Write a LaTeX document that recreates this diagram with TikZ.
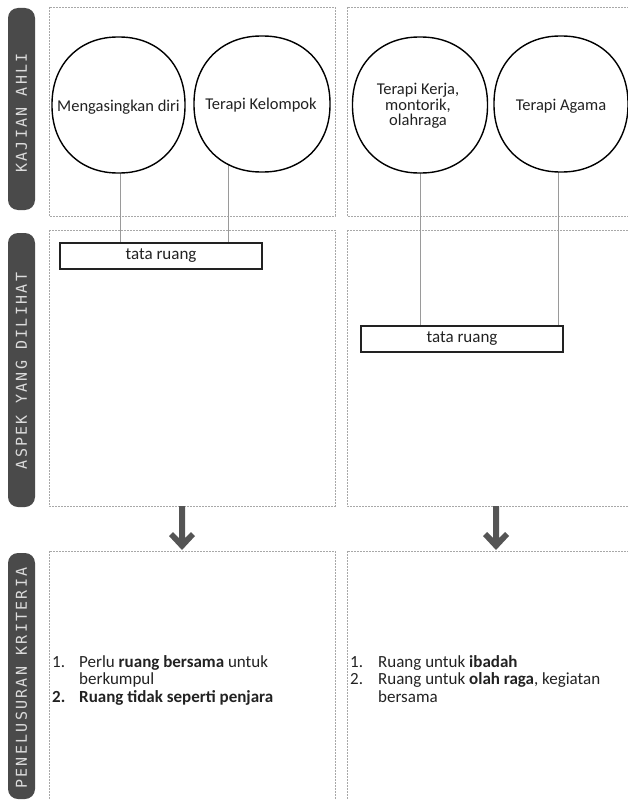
\documentclass[tikz,border=0pt]{standalone}
\usepackage{fontspec}
\setmainfont{Carlito}
\newfontfamily\sidefont[LetterSpace=15]{DejaVu Sans Mono}
\usetikzlibrary{shapes.geometric}
\definecolor{pillgray}{HTML}{4A4A4A}
\definecolor{pilltext}{HTML}{DCDCDC}
\definecolor{dotgray}{HTML}{A8A8A8}
\definecolor{linegray}{HTML}{9A9A9A}
\definecolor{arrowgray}{HTML}{555555}
\definecolor{inkc}{HTML}{222222}
\newcommand\blobshape[3]{%
  \begin{scope}[shift={(#1)}]
    \draw[blobline] plot[domain=2:358, samples=90, smooth cycle]
      ({#2*sign(cos(\x))*abs(cos(\x))^0.93}, {#3*sign(sin(\x))*abs(sin(\x))^0.93});
  \end{scope}}
\begin{document}
\begin{tikzpicture}[x=1pt,y=-1pt,
  pill/.style={fill=pillgray, rounded corners=10pt},
  sidelabel/.style={rotate=90, text=pilltext, inner sep=0pt, font=\sidefont\fontsize{15}{15}\selectfont},
  framebox/.style={draw=dotgray, line width=0.8pt, dash pattern=on 2pt off 1pt},
  bubble/.style={ellipse, minimum width=133pt, minimum height=136pt, inner sep=0pt},
  blobline/.style={draw=black, fill=white, line width=1.4pt},
  bubbletext/.style={align=center, inner sep=0pt, text=inkc, font=\fontsize{16.5}{15.5}\selectfont},
  tagbox/.style={draw=inkc, line width=1.5pt, fill=white, minimum width=202pt, minimum height=26pt, inner sep=0pt, text=inkc, font=\fontsize{17}{17}\selectfont},
  link/.style={draw=linegray, line width=1pt},
  listtext/.style={anchor=base west, inner sep=0pt, text=inkc, font=\fontsize{17}{17.5}\selectfont},
  arrowfill/.style={fill=arrowgray}
]
\useasboundingbox (0,0) rectangle (628,800);
\clip (0,0) rectangle (628,800);

% side pills
\fill[pill] (8,8) rectangle (35,210);
\fill[pill] (8,233) rectangle (35,507);
\fill[pill] (8,553) rectangle (35,799);
\node[sidelabel] (s1) at (21.5,113) {KAJIAN AHLI};
\node[sidelabel] (s2) at (21.5,371) {ASPEK YANG DILIHAT};
\node[sidelabel] (s3) at (21.5,678) {PENELUSURAN KRITERIA};

% dotted frames
\draw[framebox] (49,7) rectangle (335,216);
\draw[framebox] (347,7) rectangle (645,216);
\draw[framebox] (49,230) rectangle (335,506);
\draw[framebox] (347,230) rectangle (645,506);
\draw[framebox] (49,551) rectangle (335,820);
\draw[framebox] (347,551) rectangle (645,820);

% bubble anchors (shape drawn below)
\node[bubble] (c1) at (118.5,105) {};
\node[bubble] (c2) at (262,104) {};
\node[bubble] (c3) at (420,105) {};
\node[bubble] (c4) at (561,104) {};

% tag boxes
\node[tagbox] (b1) at (161,256) {};
\node[tagbox] (b2) at (462,339) {};

% links
\draw[link] (c1.272) -- (c1.272 |- b1.north);
\draw[link] (c2.240) -- (c2.240 |- b1.north);
\draw[link] (c3.south) -- (c3.south |- b2.north);
\draw[link] (c4.268) -- (c4.268 |- b2.north);
\node[tagbox] (tb1) at (b1) {tata ruang};
\node[tagbox] (tb2) at (b2) {tata ruang};

% bubble outlines and texts
\blobshape{c1}{66.5}{68}
\blobshape{c2}{68}{68}
\blobshape{c3}{67.5}{68}
\blobshape{c4}{67}{68}
\node[bubbletext] (t1) at (118.5,107) {Mengasingkan diri};
\node[bubbletext] (t2) at (261,105) {Terapi Kelompok};
\node[bubbletext] (t3) at (418,106) {Terapi Kerja,\\montorik,\\olahraga};
\node[bubbletext] (t4) at (561,106) {Terapi Agama};

% arrows
\coordinate (aL) at (182,506);
\coordinate (aR) at (496,506);
\foreach \a in {aL,aR}{
  \begin{scope}[shift={(\a)}]
    \fill[arrowfill] (-3,0) -- (3,0) -- (3,32) -- (9,26) -- (13,30) -- (0,44) -- (-13,30) -- (-9,26) -- (-3,32) -- cycle;
  \end{scope}
}

% lists
\node[listtext] (k1) at (52,667) {\begin{tabular}[t]{@{}p{27pt}@{}l@{}}1. & Perlu \textbf{ruang bersama} untuk\\ & berkumpul\\ \textbf{2.} & \textbf{Ruang tidak seperti penjara}\end{tabular}};
\node[listtext] (k2) at (350,667) {\begin{tabular}[t]{@{}p{28pt}@{}l@{}}1. & Ruang untuk \textbf{ibadah}\\ 2. & Ruang untuk \textbf{olah raga}, kegiatan\\ & bersama\end{tabular}};
\end{tikzpicture}
\end{document}
